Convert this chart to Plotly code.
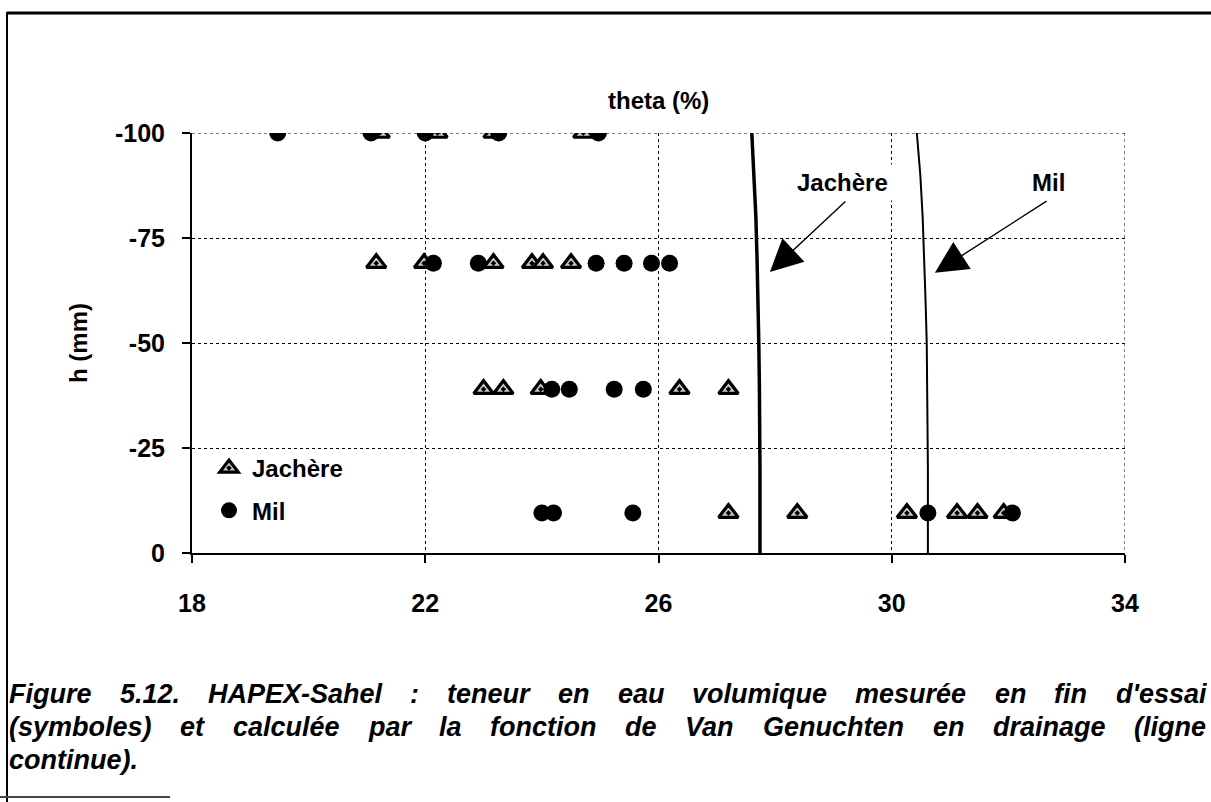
import plotly.graph_objects as go

# Measured volumetric water content at the end of the test (theta, %), by suction h (mm)
jachere_theta = [21.22, 22.21, 23.17, 24.71,
                 21.16, 21.98, 23.17, 23.83, 24.02, 24.50,
                 23.00, 23.34, 23.98, 26.36, 27.20,
                 27.20, 28.38, 30.26, 31.12, 31.47, 31.92]
jachere_h = [-100, -100, -100, -100,
             -69, -69, -69, -69, -69, -69,
             -39, -39, -39, -39, -39,
             -9.5, -9.5, -9.5, -9.5, -9.5, -9.5]

mil_theta = [19.47, 21.07, 22.00, 23.26, 24.97,
             22.14, 22.91, 24.93, 25.41, 25.88, 26.19,
             24.17, 24.47, 25.24, 25.74,
             24.00, 24.20, 25.56, 30.62, 32.07]
mil_h = [-100, -100, -100, -100, -100,
         -69, -69, -69, -69, -69, -69,
         -39, -39, -39, -39,
         -9.5, -9.5, -9.5, -9.5, -9.5]

# Van Genuchten drainage curves
vg_h = [-100, -90, -80, -70, -60, -50, -40, -30, -20, -10, 0]
vg_jachere = [27.60, 27.64, 27.67, 27.69, 27.71, 27.72, 27.73, 27.74, 27.74, 27.74, 27.74]
vg_mil = [30.43, 30.49, 30.53, 30.56, 30.58, 30.60, 30.61, 30.62, 30.62, 30.62, 30.62]

x_ticks = [18, 22, 26, 30, 34]
y_ticks = [-100, -75, -50, -25, 0]

caption_lines = [
    "Figure 5.12. HAPEX-Sahel : teneur en eau volumique mesurée en fin d'essai",
    "(symboles) et calculée par la fonction de Van Genuchten en drainage (ligne",
    "continue).",
]

W, H = 1211, 802
L, R, T, B = 192, 1125, 133, 553
FONT = "Liberation Sans, Arial, sans-serif"


def px(xp):
    return (xp - L) / (R - L)


def py(yp):
    return 1 - (yp - T) / (B - T)


fig = go.Figure()

fig.add_trace(go.Scatter(
    x=vg_jachere, y=vg_h, mode="lines", showlegend=False,
    line=dict(color="black", width=3.5), hoverinfo="skip"))
fig.add_trace(go.Scatter(
    x=vg_mil, y=vg_h, mode="lines", showlegend=False,
    line=dict(color="black", width=2), hoverinfo="skip"))

fig.add_trace(go.Scatter(
    x=jachere_theta, y=jachere_h, mode="markers", name="Jachère",
    legendgroup="a",
    marker=dict(symbol="triangle-up-dot", size=17, color="#c8c8c8",
                line=dict(color="black", width=3.2))))
fig.add_trace(go.Scatter(
    x=mil_theta, y=mil_h, mode="markers", name="Mil",
    legendgroup="b",
    marker=dict(symbol="circle", size=17, color="black",
                line=dict(color="black", width=0))))

# Dotted frame on the top and right sides of the plot area
fig.add_shape(type="line", x0=18, x1=34, y0=-100, y1=-100, xref="x", yref="y",
              line=dict(color="black", width=1, dash="dot"))
fig.add_shape(type="line", x0=34, x1=34, y0=-100, y1=0, xref="x", yref="y",
              line=dict(color="black", width=1, dash="dot"))
# Gap in the -25 gridline behind the legend
fig.add_shape(type="rect", x0=px(250), x1=px(358), y0=py(449), y1=py(443),
              xref="paper", yref="paper", layer="between",
              fillcolor="white", line=dict(width=0))

# Page border
fig.add_shape(type="line", x0=px(7), x1=px(W + 5), y0=py(13), y1=py(13),
              xref="paper", yref="paper", line=dict(color="black", width=3))
fig.add_shape(type="line", x0=px(7), x1=px(7), y0=py(12), y1=py(H + 5),
              xref="paper", yref="paper", line=dict(color="black", width=2))
fig.add_shape(type="line", x0=px(0), x1=px(170), y0=py(797), y1=py(797),
              xref="paper", yref="paper", line=dict(color="#444", width=2))

annotations = []
bold = dict(family=FONT, size=24, color="black", weight="bold")

annotations.append(dict(text="theta (%)", x=0.5, y=py(100), xref="paper", yref="paper",
                        showarrow=False, font=bold, xanchor="center", yanchor="middle"))
annotations.append(dict(text="h (mm)", x=px(78), y=py(343), xref="paper", yref="paper",
                        showarrow=False, font=bold, textangle=-90,
                        xanchor="center", yanchor="middle"))

# Curve labels with arrows
annotations.append(dict(text="Jachère", x=29.15, y=-88.3, xref="x", yref="y",
                        showarrow=False, font=bold, bgcolor="white", borderpad=4))
annotations.append(dict(text="Mil", x=32.68, y=-88.3, xref="x", yref="y",
                        showarrow=False, font=bold))
for tip_x, tip_y, tail_x, tail_y in [(27.91, -66.9, 29.23, -84.0),
                                     (30.74, -66.7, 32.68, -84.0)]:
    annotations.append(dict(text="", x=tip_x, y=tip_y, ax=tail_x, ay=tail_y,
                            xref="x", yref="y", axref="x", ayref="y",
                            showarrow=True, arrowhead=2, arrowsize=4.6,
                            arrowwidth=1.4, arrowcolor="black", standoff=0))

# Justified caption: words spread between the left and right margins
HELV_BOLD = {
    " ": 278, "'": 238, "(": 333, ")": 333, "-": 333, ".": 278, ":": 333,
    "0": 556, "1": 556, "2": 556, "3": 556, "4": 556, "5": 556, "6": 556,
    "7": 556, "8": 556, "9": 556,
    "A": 722, "E": 667, "F": 611, "G": 778, "H": 722, "P": 667, "S": 667,
    "V": 667, "X": 667,
    "a": 556, "b": 611, "c": 556, "d": 611, "e": 556, "f": 333, "g": 611,
    "h": 611, "i": 278, "l": 278, "m": 889, "n": 611, "o": 611, "p": 611,
    "q": 611, "r": 389, "s": 556, "t": 333, "u": 611, "v": 556, "y": 556,
    "é": 556, "è": 556,
}
CAP_SIZE = 27
cap_font = dict(family=FONT, size=CAP_SIZE, color="black", weight="bold", style="italic")


def word_width(w):
    return sum(HELV_BOLD.get(ch, 556) for ch in w) * CAP_SIZE / 1000.0


cap_left, cap_right = 8, 1205
cap_y = [694, 727, 760]
for i, line in enumerate(caption_lines):
    words = line.split(" ")
    if i < len(caption_lines) - 1 and len(words) > 1:
        total = sum(word_width(w) for w in words)
        gap = (cap_right - cap_left - total) / (len(words) - 1)
    else:
        gap = word_width(" ")
    xpos = cap_left
    for w in words:
        annotations.append(dict(text=w, x=px(xpos), y=py(cap_y[i]), xref="paper",
                                yref="paper", showarrow=False, font=cap_font,
                                xanchor="left", yanchor="middle", borderpad=0))
        xpos += word_width(w) + gap

fig.update_layout(
    width=W, height=H,
    margin=dict(l=L, r=W - R, t=T, b=H - B, autoexpand=False),
    paper_bgcolor="white", plot_bgcolor="white",
    font=dict(family=FONT, color="black"),
    annotations=annotations,
    legend=dict(x=px(206), y=py(446), xanchor="left", yanchor="top",
                bgcolor="rgba(0,0,0,0)", font=dict(family=FONT, size=24, weight="bold"),
                tracegroupgap=8, traceorder="grouped", itemwidth=36),
    xaxis=dict(range=[18, 34], tickvals=x_ticks, ticktext=[str(v) for v in x_ticks],
               showline=True, linecolor="black", linewidth=2,
               ticks="outside", ticklen=8, tickwidth=1.5, tickcolor="black",
               ticklabelstandoff=19,
               tickfont=dict(family=FONT, size=25, weight="bold"),
               showgrid=True, gridcolor="black", gridwidth=1, griddash="dot",
               zeroline=False),
    yaxis=dict(range=[0, -100], tickvals=y_ticks, ticktext=[str(v) for v in y_ticks],
               showline=True, linecolor="black", linewidth=2,
               ticks="outside", ticklen=8, tickwidth=1.5, tickcolor="black",
               ticklabelstandoff=12,
               tickfont=dict(family=FONT, size=25, weight="bold"),
               showgrid=True, gridcolor="black", gridwidth=1, griddash="dot",
               zeroline=False),
)

fig.write_html("out.html")
